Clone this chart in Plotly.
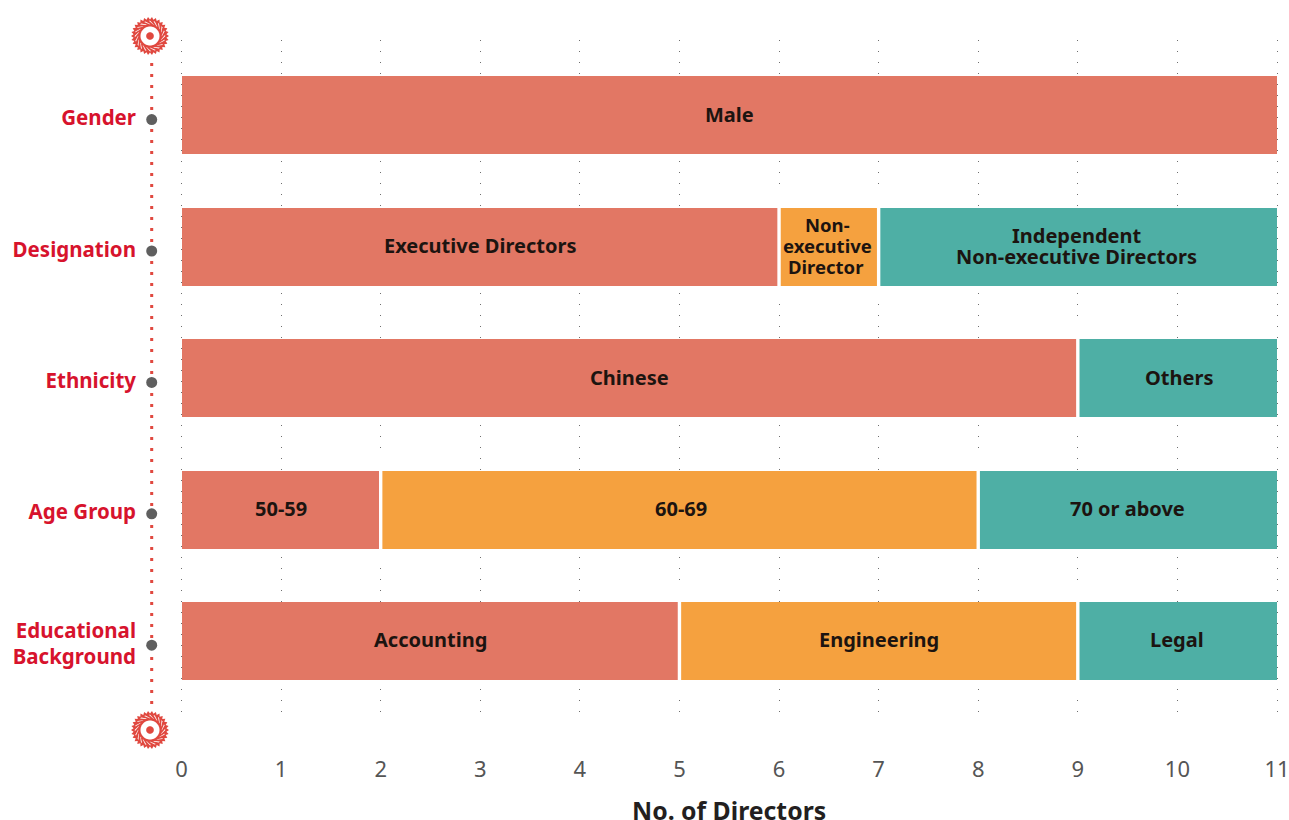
import math
import plotly.graph_objects as go

categories = ["Gender", "Designation", "Ethnicity", "Age Group", "Educational<br>Background"]
first_values = [11, 6, 9, 2, 5]
second_values = [None, 1, None, 6, 4]
third_values = [None, 4, 2, 3, 2]
first_labels = ["Male", "Executive Directors", "Chinese", "50-59", "Accounting"]
second_labels = [None, "Non-<br>executive<br>Director", None, "60-69", "Engineering"]
third_labels = [None, "Independent<br>Non-executive Directors", "Others", "70 or above", "Legal"]
x_ticks = list(range(0, 12))
x_title = "No. of Directors"

SALMON = "#E27764"
ORANGE = "#F5A13F"
TEAL = "#4EAFA5"
RED_TEXT = "#D7132D"
GEAR_RED = "#E0483F"
W, H = 1289, 820
PX_X0, PX_X11 = 181.5, 1277.0
PX_LEFT, PX_RIGHT = 130.0, 1289.0
PX_TOP, PX_BOT = 40.0, 720.0
PX_ROW0, PX_STEP = 115.3, 131.4
PX_UNIT = (PX_X11 - PX_X0) / 11
FONT = "Noto Sans"
LABEL_NUDGE = {"Others": 2, "60-69": 2, "Non-": -1, "executive": -1.5, "Director": -2.5, "Independent": -1,
               "Non-executive Directors": -1}

y_top = (PX_TOP - PX_ROW0) / PX_STEP
y_bot = (PX_BOT - PX_ROW0) / PX_STEP
x_left = (PX_LEFT - PX_X0) / PX_UNIT
x_right = (PX_RIGHT - PX_X0) / PX_UNIT
spine_x = (151.7 - PX_X0) / PX_UNIT

fig = go.Figure()
for vals, color in zip([first_values, second_values, third_values], [SALMON, ORANGE, TEAL]):
    fig.add_trace(go.Bar(y=categories, x=vals, orientation="h", marker=dict(color=color, line=dict(width=0)),
                         width=78 / PX_STEP, hoverinfo="x+y", showlegend=False))

# white separators between adjoining segments
sep_x, sep_y = [], []
for i, c in enumerate(categories):
    total = 0
    stack = [v for v in (first_values[i], second_values[i], third_values[i]) if v]
    for v in stack[:-1]:
        total += v
        sep_x.append(total)
        sep_y.append(c)
fig.add_trace(go.Scatter(x=sep_x, y=sep_y, mode="markers", hoverinfo="skip", showlegend=False,
                         marker=dict(symbol="line-ns", size=80, color="white", line=dict(color="white", width=3.4))))

# segment labels: one annotation per line so the leading stays tight
LEADING = 21
for i, c in enumerate(categories):
    cum = 0
    for vals, labels in zip([first_values, second_values, third_values], [first_labels, second_labels, third_labels]):
        v = vals[i]
        if not v:
            continue
        mid = cum + v / 2
        cum += v
        lines = labels[i].split("<br>")
        size = 18.5 if len(lines) == 3 else 20
        for j, line in enumerate(lines):
            fig.add_annotation(x=mid, y=c, xref="x", yref="y", text=line, showarrow=False,
                               font=dict(family=FONT, size=size, color="#1C1410", weight=700),
                               xanchor="center", yanchor="middle", xshift=LABEL_NUDGE.get(line, 0),
                               yshift=((len(lines) - 1) / 2 - j) * LEADING + 1)

# dotted spine and grey category dots, on slightly offset axes
fig.add_trace(go.Scatter(x=[spine_x, spine_x], y=[(63 - PX_ROW0 - 3.5) / PX_STEP, (708 - PX_ROW0 - 3.5) / PX_STEP],
                         mode="lines", yaxis="y2", hoverinfo="skip", showlegend=False,
                         line=dict(color=GEAR_RED, width=3, dash="3px,8px")))
fig.add_trace(go.Scatter(x=[spine_x] * len(categories), y=categories, mode="markers", yaxis="y4",
                         hoverinfo="skip", showlegend=False,
                         marker=dict(color="#5F5F5F", size=11)))
# invisible trace carrying the category tick labels
fig.add_trace(go.Scatter(x=[spine_x] * len(categories), y=categories, mode="markers", yaxis="y3",
                         hoverinfo="skip", showlegend=False, marker=dict(opacity=0)))


def saw_path(r_out, r_in, teeth):
    pts = []
    for k in range(teeth):
        a = 2 * math.pi * k / teeth
        b = 2 * math.pi * (k + 0.5) / teeth
        pts.append((r_out * math.cos(a), r_out * math.sin(a)))
        pts.append((r_in * math.cos(b), r_in * math.sin(b)))
    return "M " + " L ".join(f"{px:.2f},{py:.2f}" for px, py in pts) + " Z"


def circle_path(r):
    return saw_path(r, r, 30)


def slit_path(angle, r0, r1, twist):
    a0 = angle
    a1 = angle + twist
    w = 0.045
    p = [(r0 * math.cos(a0 - w), r0 * math.sin(a0 - w)), (r1 * math.cos(a1 - w), r1 * math.sin(a1 - w)),
         (r1 * math.cos(a1 + w), r1 * math.sin(a1 + w)), (r0 * math.cos(a0 + w), r0 * math.sin(a0 + w))]
    return "M " + " L ".join(f"{px:.2f},{py:.2f}" for px, py in p) + " Z"


def add_gear(px_x, px_y):
    common = dict(type="path", xref="paper", yref="paper", xsizemode="pixel", ysizemode="pixel",
                  xanchor=px_x / W, yanchor=1 - px_y / H, line=dict(width=0), layer="above")
    fig.add_shape(path=saw_path(19, 16.5, 30), fillcolor=GEAR_RED, **common)
    for k in range(20):
        fig.add_shape(path=slit_path(2 * math.pi * k / 20, 11.8, 15.2, 0.35), fillcolor="white", **common)
    fig.add_shape(path=circle_path(9.5), fillcolor="white", **common)
    fig.add_shape(path=circle_path(3.8), fillcolor=GEAR_RED, **common)


add_gear(150, 36)
add_gear(150, 730)

dom_y = [1 - PX_BOT / H, 1 - PX_TOP / H]
label_off = 2.8 / PX_STEP
dot_off = 4.3 / PX_STEP
hidden = dict(showgrid=False, zeroline=False, showline=False, ticks="")
fig.update_layout(
    width=W, height=H, margin=dict(l=0, r=0, t=0, b=0, pad=0), paper_bgcolor="white", plot_bgcolor="white",
    barmode="stack", bargap=0, showlegend=False, font=dict(family=FONT),
    xaxis=dict(domain=[PX_LEFT / W, PX_RIGHT / W], range=[x_left, x_right], tickmode="array", tickvals=x_ticks,
               showgrid=True, gridcolor="#6E6E6E", gridwidth=1, griddash="1px,10px", zeroline=False, showline=False,
               ticks="", ticklabelstandoff=34, ticklabeloverflow="allow",
               tickfont=dict(family=FONT, size=22, color="#555555"), automargin=False),
    yaxis=dict(domain=dom_y, range=[y_bot, y_top], type="category", categoryorder="array", categoryarray=categories,
               showticklabels=False, **hidden),
    yaxis2=dict(domain=dom_y, range=[y_bot - 3.5 / PX_STEP, y_top - 3.5 / PX_STEP], overlaying="y",
                showticklabels=False, **hidden),
    yaxis3=dict(domain=dom_y, range=[y_bot - label_off, y_top - label_off], overlaying="y",
                type="category", categoryorder="array", categoryarray=categories, anchor="free", position=136 / W,
                side="left", ticklen=0, tickfont=dict(family=FONT, size=20.5, color=RED_TEXT, weight=700),
                automargin=False, **hidden),
    yaxis4=dict(domain=dom_y, range=[y_bot - dot_off, y_top - dot_off], overlaying="y",
                type="category", categoryorder="array", categoryarray=categories,
                showticklabels=False, **hidden),
)
fig.add_annotation(x=(PX_X0 + PX_X11) / 2 / W, y=1 - 810 / H, xref="paper", yref="paper", text=x_title,
                   showarrow=False, xanchor="center", yanchor="middle",
                   font=dict(family=FONT, size=24.8, color="#231F20", weight=700))
fig.write_html("out.html", config={"displayModeBar": False},
               post_script="document.body.style.margin='0';document.documentElement.style.overflow='hidden';")
